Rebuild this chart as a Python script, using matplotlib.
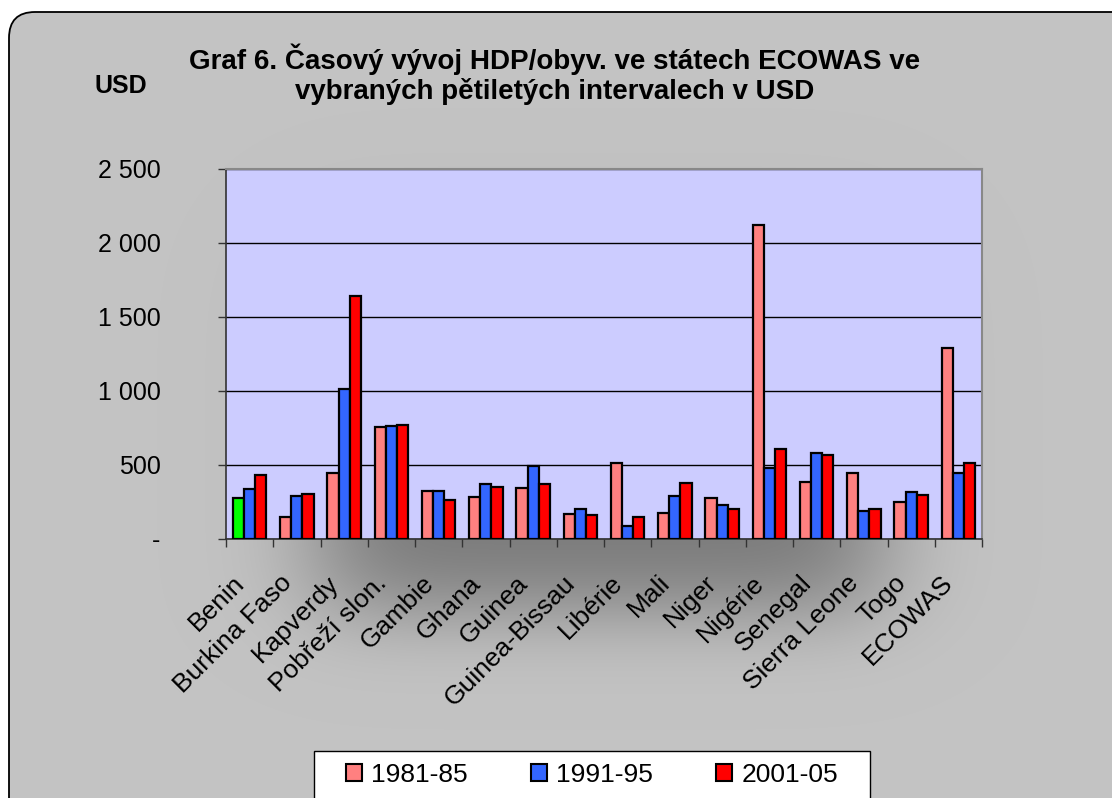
import math
import numpy as np
import matplotlib
matplotlib.use('Agg')
import matplotlib.pyplot as plt
from matplotlib.patches import FancyBboxPatch, Patch, Rectangle
from matplotlib.transforms import ScaledTranslation

plt.rcParams['font.family'] = ['Liberation Sans', 'DejaVu Sans']

# data (USD per capita)
countries = ['Benin', 'Burkina Faso', 'Kapverdy', 'Pobřeží slon.', 'Gambie', 'Ghana',
             'Guinea', 'Guinea-Bissau', 'Libérie', 'Mali', 'Niger', 'Nigérie',
             'Senegal', 'Sierra Leone', 'Togo', 'ECOWAS']
periods = ['1981-85', '1991-95', '2001-05']
v_1981 = [277, 149, 446, 757, 324, 284, 345, 169, 514, 176, 277, 2122, 385, 446, 250, 1291]
v_1991 = [338, 291, 1013, 763, 324, 372, 493, 203, 88, 291, 230, 480, 581, 189, 318, 446]
v_2001 = [432, 304, 1642, 770, 263, 351, 372, 162, 149, 378, 203, 608, 568, 203, 297, 514]
y_ticks = [0, 500, 1000, 1500, 2000, 2500]
y_tick_labels = ['-', '500', '1 000', '1 500', '2 000', '2 500']

title = 'Graf 6. Časový vývoj HDP/obyv. ve státech ECOWAS ve\nvybraných pětiletých intervalech v USD'

colors = ['#ff8080', '#3366ff', '#ff0000']

W, H = 1112, 798
fig = plt.figure(figsize=(W / 100, H / 100), dpi=100)
fig.patch.set_facecolor('white')

# background: rounded grey box with a soft shadow behind the plot (pixel coords, y up)
bg = fig.add_axes([0, 0, 1, 1])
bg.set_xlim(0, W)
bg.set_ylim(0, H)
bg.axis('off')

xs = np.arange(W) + 0.5
ys = np.arange(H) + 0.5          # measured from the top
erf = np.vectorize(math.erf)
mx = 0.5 * (erf((xs - 320) / 75.0) - erf((xs - 880) / 75.0))
my = 0.5 * (erf((ys - 260) / 70.0) - erf((ys - 610) / 55.0))
shade = 0.765 - 0.28 * np.outer(my, mx)
img = np.dstack([shade, shade, shade])
im = bg.imshow(img, extent=(0, W, 0, H), origin='upper', interpolation='bilinear', zorder=0)
box_xy = (9, -60)
box_w, box_h = 1130, H - 12 + 60
clip = FancyBboxPatch(box_xy, box_w, box_h, boxstyle='round,pad=0,rounding_size=26',
                      transform=bg.transData, facecolor='none', edgecolor='none')
im.set_clip_path(clip)
bg.add_patch(FancyBboxPatch(box_xy, box_w, box_h, boxstyle='round,pad=0,rounding_size=26',
                            facecolor='none', edgecolor='black', linewidth=1.3, zorder=2))

# legend frame (bottom edge runs off the picture)
bg.add_patch(Rectangle((314, -20), 870 - 314, H - 751 + 20, facecolor='white',
                       edgecolor='black', linewidth=1, zorder=3))

# main plot
ax = fig.add_axes([226 / W, 1 - 539 / H, (982 - 226) / W, (539 - 169) / H])
ax.set_facecolor('#ccccff')
x = np.arange(len(countries))
w = 0.235
for j, vals in enumerate([v_1981, v_1991, v_2001]):
    c = [colors[j]] * len(vals)
    if j == 0:
        c[0] = '#00ff00'
    ax.bar(x + (j - 1) * w, vals, width=w, color=c, edgecolor='black', linewidth=1.6, zorder=3)

ax.set_xlim(-0.5, len(countries) - 0.5)
ax.set_ylim(0, 2500)
ax.set_yticks(y_ticks)
ax.set_yticklabels(y_tick_labels)
ax.yaxis.grid(True, color='black', linewidth=1, zorder=1)
ax.set_axisbelow(True)
ax.tick_params(axis='y', direction='out', length=6, width=1, color='#333333', pad=41, labelsize=18)

ax.set_xticks(x)
ax.set_xticks(np.arange(len(countries) + 1) - 0.5, minor=True)
ax.tick_params(axis='x', which='major', length=0, pad=29, labelsize=19)
ax.tick_params(axis='x', which='minor', direction='out', length=6, width=1, color='#333333')
ax.set_xticklabels(countries, rotation=45, ha='right', va='center', rotation_mode='anchor')
shift = ScaledTranslation(-9 / 100, 0, fig.dpi_scale_trans)
for lab in ax.get_xticklabels():
    lab.set_transform(lab.get_transform() + shift)

for s in ['left', 'bottom']:
    ax.spines[s].set_color('#333333')
    ax.spines[s].set_linewidth(1.2)
for s in ['top', 'right']:
    ax.spines[s].set_color('#888888')
    ax.spines[s].set_linewidth(1.5)

fig.text(555 / W, 1 - 74 / H, title, ha='center', va='center', fontsize=20,
         fontweight='bold', linespacing=1.15)
fig.text(95 / W, 1 - 86 / H, 'USD', ha='left', va='center', fontsize=18, fontweight='bold')

handles = [Patch(facecolor=colors[k], edgecolor='black', linewidth=1.5) for k in range(3)]
leg = fig.legend(handles, periods, ncol=3, loc='upper left',
                 bbox_to_anchor=(346 / W, 1 - 763 / H), fontsize=19, frameon=False,
                 handlelength=0.6, handleheight=0.6, handletextpad=0.35,
                 columnspacing=2.4, borderpad=0, borderaxespad=0)
leg.set_zorder(5)

fig.savefig('out.png', dpi=100, facecolor=fig.get_facecolor())
